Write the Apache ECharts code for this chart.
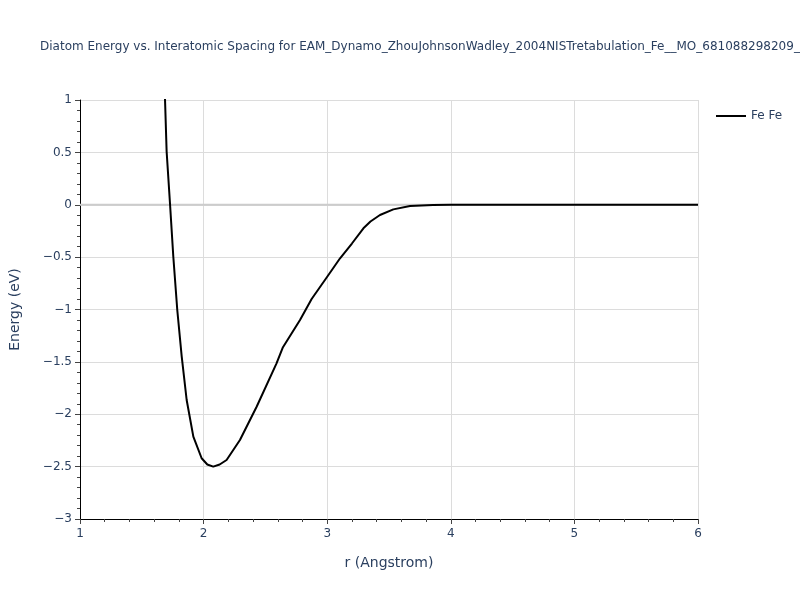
<!DOCTYPE html>
<html>
<head>
<meta charset="utf-8">
<script src="https://cdn.jsdelivr.net/npm/echarts@6/dist/echarts.min.js"></script>
<style>html,body{margin:0;padding:0;background:#fff}#c{width:800px;height:600px}</style>
</head>
<body>
<div id="c"></div>
<script>
const titleText = "Diatom Energy vs. Interatomic Spacing for EAM_Dynamo_ZhouJohnsonWadley_2004NISTretabulation_Fe__MO_681088298209_000";
const seriesName = "Fe Fe";
const rValues = [1.676, 1.688, 1.701, 1.728, 1.755, 1.787, 1.823, 1.863, 1.917, 1.984, 2.03, 2.078, 2.13, 2.186, 2.294, 2.429, 2.59, 2.642, 2.78, 2.874, 3.0, 3.104, 3.2, 3.293, 3.35, 3.427, 3.535, 3.67, 3.856, 4.0, 4.5, 5.0, 5.5, 6.0];
const energyValues = [1.5, 1.0, 0.506, 0.014, -0.496, -1.005, -1.45, -1.864, -2.214, -2.42, -2.48, -2.50, -2.48, -2.437, -2.246, -1.928, -1.514, -1.36, -1.10, -0.90, -0.687, -0.511, -0.37, -0.225, -0.16, -0.098, -0.044, -0.012, -0.002, 0, 0, 0, 0, 0];
const zeroLineX = [1, 6];
const zeroLineY = [0, 0];
const xTicks = {min: 1, max: 6, interval: 1};
const yTicks = {min: -3, max: 1, interval: 0.5};

const textColor = '#2a3f5f';
const font = '"DejaVu Sans", Verdana, sans-serif';
const fmt = v => String(v).replace('-', '\u2212');
const chart = echarts.init(document.getElementById('c'));
chart.setOption({
  animation: false,
  backgroundColor: '#fff',
  title: {
    text: titleText, left: 35, top: 36,
    textStyle: {color: textColor, fontSize: 12, fontWeight: 'normal', fontFamily: font}
  },
  legend: {
    left: 711, top: 105, itemWidth: 30, itemHeight: 2, itemGap: 5,
    icon: 'rect',
    data: [{name: seriesName, itemStyle: {color: '#000'}}],
    textStyle: {color: textColor, fontSize: 12, fontFamily: font}
  },
  grid: {left: 80, right: 102, top: 100, bottom: 81, containLabel: false},
  xAxis: {
    type: 'value', min: xTicks.min, max: xTicks.max, interval: xTicks.interval,
    name: 'r (Angstrom)', nameLocation: 'middle', nameGap: 37,
    nameTextStyle: {color: textColor, fontSize: 14, fontFamily: font},
    axisLine: {show: true, onZero: false, lineStyle: {color: '#000', width: 1}},
    axisTick: {show: true, length: 5, lineStyle: {color: '#444'}},
    minorTick: {show: true, splitNumber: 5, length: 3, lineStyle: {color: '#444'}},
    axisLabel: {color: textColor, fontSize: 12, margin: 9, fontFamily: font, formatter: fmt,
      showMinLabel: true, showMaxLabel: true},
    splitLine: {show: true, lineStyle: {color: '#dcdcdc', width: 1}},
    minorSplitLine: {show: false}
  },
  yAxis: {
    type: 'value', min: yTicks.min, max: yTicks.max, interval: yTicks.interval,
    name: 'Energy (eV)', nameLocation: 'middle', nameGap: 58,
    nameTextStyle: {color: textColor, fontSize: 14, fontFamily: font},
    axisLine: {show: true, onZero: false, lineStyle: {color: '#000', width: 1}},
    axisTick: {show: true, length: 5, lineStyle: {color: '#444'}},
    minorTick: {show: true, splitNumber: 5, length: 3, lineStyle: {color: '#444'}},
    axisLabel: {color: textColor, fontSize: 12, margin: 8, fontFamily: font, formatter: fmt},
    splitLine: {show: true, lineStyle: {color: '#dcdcdc', width: 1}}
  },
  series: [{
    name: '__zero', type: 'line', showSymbol: false, silent: true, z: 1,
    data: zeroLineX.map((x, i) => [x, zeroLineY[i]]),
    lineStyle: {color: '#cccccc', width: 2}, itemStyle: {color: '#cccccc'}, tooltip: {show: false}
  }, {
    name: seriesName, type: 'line', showSymbol: false, smooth: false, clip: true,
    data: rValues.map((r, i) => [r, energyValues[i]]),
    lineStyle: {color: '#000', width: 2}, itemStyle: {color: '#000'},
    z: 3
  }]
});
</script>
</body>
</html>
